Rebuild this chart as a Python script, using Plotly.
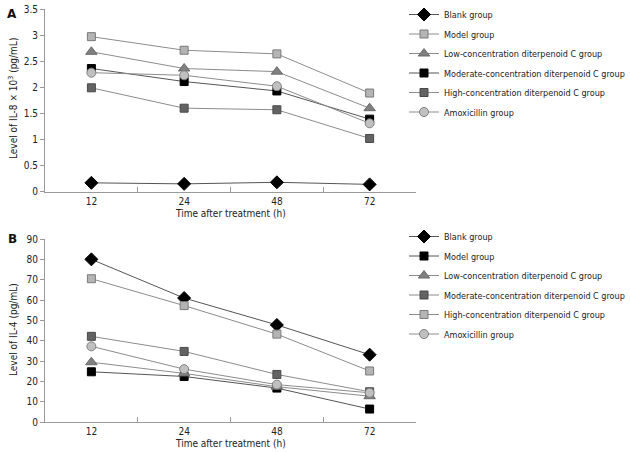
import plotly.graph_objects as go

times = ["12", "24", "48", "72"]

# Panel A: IL-8 x 10^3 (pg/mL)
a_names = ["Blank group", "Model group", "Low-concentration diterpenoid C group",
           "Moderate-concentration diterpenoid C group", "High-concentration diterpenoid C group",
           "Amoxicillin group"]
a_blank = [0.17, 0.15, 0.18, 0.14]
a_model = [2.97, 2.71, 2.64, 1.89]
a_low = [2.68, 2.36, 2.30, 1.60]
a_moderate = [2.36, 2.11, 1.93, 1.39]
a_high = [1.99, 1.60, 1.57, 1.02]
a_amox = [2.28, 2.23, 2.02, 1.31]

# Panel B: IL-4 (pg/mL)
b_names = ["Blank group", "Model group", "Low-concentration diterpenoid C group",
           "Moderate-concentration diterpenoid C group", "High-concentration diterpenoid C group",
           "Amoxicillin group"]
b_blank = [80.0, 61.0, 47.8, 33.2]
b_model = [24.8, 22.5, 16.8, 6.5]
b_low = [29.5, 24.0, 17.5, 12.8]
b_moderate = [42.2, 34.8, 23.5, 15.0]
b_high = [70.5, 57.3, 43.3, 25.2]
b_amox = [37.3, 26.1, 18.5, 14.5]

a_ticks = [0, 0.5, 1, 1.5, 2, 2.5, 3, 3.5]
b_ticks = [0, 10, 20, 30, 40, 50, 60, 70, 80, 90]

FONT = "DejaVu Sans Condensed, DejaVu Sans, sans-serif"

# styles: (symbol, fill, border, size, line color)
s_blank = ("diamond", "#000000", "#000000", 10, "#555555")
s_light = ("square", "#b4b4b4", "#7a7a7a", 8, "#8c8c8c")
s_tri = ("triangle-up", "#808080", "#6a6a6a", 10, "#8c8c8c")
s_black = ("square", "#000000", "#000000", 8, "#555555")
s_dark = ("square", "#636363", "#4a4a4a", 8, "#8c8c8c")
s_circ = ("circle", "#c0c0c0", "#808080", 9, "#8c8c8c")

fig = go.Figure()

def add(vals, name, style, xa, ya, leg):
    sym, fill, border, size, lc = style
    fig.add_trace(go.Scatter(
        x=times, y=vals, name=name, mode="lines+markers",
        xaxis=xa, yaxis=ya, legend=leg, legendgroup=leg + name,
        line=dict(color=lc, width=1),
        marker=dict(symbol=sym, color=fill, size=size, line=dict(color=border, width=1)),
    ))

a_series = [a_blank, a_model, a_low, a_moderate, a_high, a_amox]
a_styles = [s_blank, s_light, s_tri, s_black, s_dark, s_circ]
for v, n, s in zip(a_series, a_names, a_styles):
    add(v, n, s, "x", "y", "legend")

b_series = [b_blank, b_model, b_low, b_moderate, b_high, b_amox]
b_styles = [s_blank, s_black, s_tri, s_dark, s_light, s_circ]
for v, n, s in zip(b_series, b_names, b_styles):
    add(v, n, s, "x2", "y2", "legend2")

W, H = 630, 452
def fx(px):
    return px / W
def fy(py):
    return 1 - py / H

base_axis = dict(showline=True, linecolor="#9a9a9a", linewidth=1,
                 tickcolor="#9a9a9a", showgrid=False, zeroline=False,
                 automargin=False,
                 tickfont=dict(family=FONT, size=10, color="#222"))
x_axis = dict(type="category", range=[-0.5, 3.5], tickson="boundaries",
              ticks="inside", ticklen=5, **base_axis)
y_axis = dict(ticks="outside", ticklen=4, **base_axis)

leg_common = dict(xanchor="right", yanchor="top", x=1.0,
                  traceorder="grouped", tracegroupgap=0.5,
                  font=dict(family=FONT, size=9, color="#222"),
                  bgcolor="rgba(0,0,0,0)", itemwidth=30)

fig.update_layout(
    width=W, height=H, autosize=False, margin=dict(l=0, r=0, t=0, b=0),
    paper_bgcolor="white", plot_bgcolor="white",
    font=dict(family=FONT, size=10, color="#222"),
    xaxis=dict(domain=[fx(45), fx(416)], anchor="y", **x_axis),
    yaxis=dict(domain=[fy(191.7), fy(9)], anchor="x", range=[0, 3.5], tickvals=a_ticks,
               ticktext=[f"{t:g}" for t in a_ticks], **y_axis),
    xaxis2=dict(domain=[fx(45), fx(416)], anchor="y2", **x_axis),
    yaxis2=dict(domain=[fy(422.3), fy(239)], anchor="x2", range=[0, 90], tickvals=b_ticks,
                **y_axis),
    legend=dict(y=1.0, **leg_common),
    legend2=dict(y=fy(222), **leg_common),
    showlegend=True,
)

ann = [
    dict(text="<b>A</b>", x=fx(12), y=fy(14), font=dict(family="DejaVu Sans, sans-serif", size=12, color="#111")),
    dict(text="<b>B</b>", x=fx(12), y=fy(239), font=dict(family="DejaVu Sans, sans-serif", size=12, color="#111")),
    dict(text="Level of IL-8 × 10<sup>3</sup> (pg/mL)", x=fx(13), y=fy(99), textangle=-90),
    dict(text="Level of IL-4 (pg/mL)", x=fx(13), y=fy(330), textangle=-90),
    dict(text="Time after treatment (h)", x=fx(231), y=fy(213)),
    dict(text="Time after treatment (h)", x=fx(231), y=fy(443)),
]
for a in ann:
    a.setdefault("font", dict(family=FONT, size=10, color="#222"))
    fig.add_annotation(xref="paper", yref="paper", showarrow=False,
                       xanchor="center", yanchor="middle", **a)

post = ("document.body.style.margin='0';document.body.style.padding='0';"
        "document.body.style.overflow='hidden';"
        "document.documentElement.style.overflow='hidden';")
fig.write_html("out.html", post_script=post,
               config={"displayModeBar": False, "responsive": False})
